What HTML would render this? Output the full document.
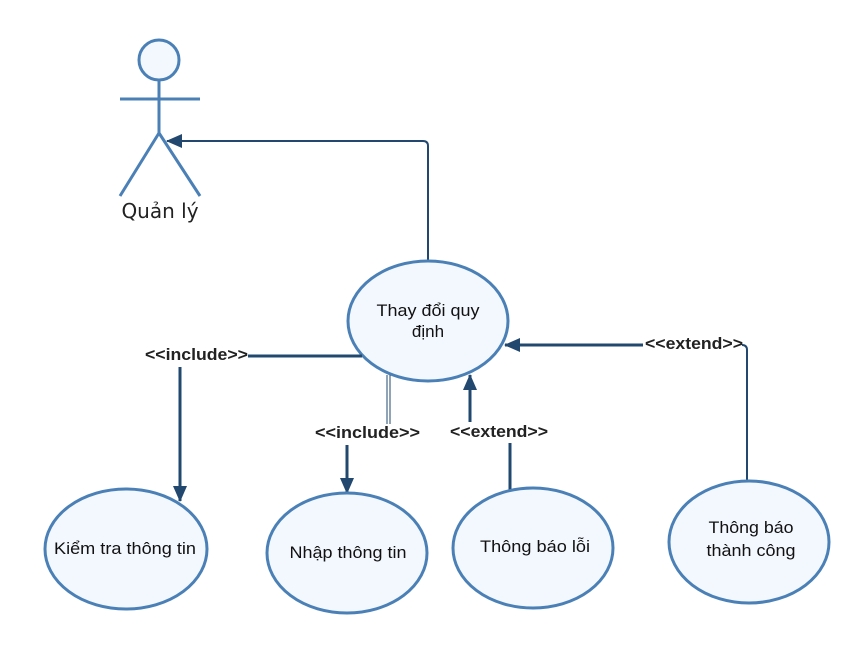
<!DOCTYPE html>
<html><head><meta charset="utf-8"><style>
html,body{margin:0;padding:0;background:#fff;}
svg{display:block;}
text{font-family:"Liberation Sans",sans-serif;fill:#111;}
.e{fill:#f3f8fe;stroke:#4a80b6;stroke-width:3;}
.c{stroke:#22486f;stroke-width:3;fill:none;}
.t{stroke:#22486f;stroke-width:2;fill:none;}
.lb{font-size:17px;font-weight:bold;fill:#222;}
.u{font-size:17px;text-anchor:middle;}
</style></head><body>
<svg width="868" height="654" viewBox="0 0 868 654" xmlns="http://www.w3.org/2000/svg">
<defs>
<marker id="b" markerWidth="16" markerHeight="14" refX="15" refY="7" orient="auto" markerUnits="userSpaceOnUse"><path d="M0,0 L16,7 L0,14 z" fill="#22486f"/></marker>
</defs>
<g stroke="#4a80b6" stroke-width="3" fill="#f3f8fe">
<circle cx="159" cy="60" r="20"/>
<line x1="159" y1="80" x2="159" y2="133"/>
<line x1="120" y1="99" x2="200" y2="99"/>
<line x1="159" y1="133" x2="120" y2="196"/>
<line x1="159" y1="133" x2="200" y2="196"/>
</g>
<text x="160" y="218" style="font-size:20px;text-anchor:middle;font-family:'DejaVu Sans',sans-serif;fill:#222">Quản lý</text>
<path class="t" d="M428,262 L428,146 Q428,141 423,141 L167,141" marker-end="url(#b)"/>
<ellipse class="e" cx="428" cy="321" rx="80" ry="60"/>
<text class="u" x="428" y="316" textLength="103" lengthAdjust="spacingAndGlyphs">Thay đổi quy</text>
<text class="u" x="428" y="337">định</text>
<line class="c" x1="362" y1="356" x2="248" y2="356"/>
<text class="lb" x="145" y="360" textLength="103" lengthAdjust="spacingAndGlyphs">&lt;&lt;include&gt;&gt;</text>
<line class="c" x1="180" y1="367" x2="180" y2="501" marker-end="url(#b)"/>
<line x1="387" y1="375" x2="387" y2="424" stroke="#22486f" stroke-width="1"/>
<line x1="390" y1="375" x2="390" y2="424" stroke="#22486f" stroke-width="1"/>
<text class="lb" x="315" y="438" textLength="105" lengthAdjust="spacingAndGlyphs">&lt;&lt;include&gt;&gt;</text>
<line class="c" x1="347" y1="445" x2="347" y2="493" marker-end="url(#b)"/>
<line class="c" x1="510" y1="443" x2="510" y2="490"/>
<text class="lb" x="450" y="437" textLength="98" lengthAdjust="spacingAndGlyphs">&lt;&lt;extend&gt;&gt;</text>
<line class="c" x1="470" y1="422" x2="470" y2="375" marker-end="url(#b)"/>
<path class="t" d="M747,480 L747,350 Q747,345 742,345"/>
<text class="lb" x="645" y="349" textLength="98" lengthAdjust="spacingAndGlyphs">&lt;&lt;extend&gt;&gt;</text>
<line class="c" x1="643" y1="345" x2="505" y2="345" marker-end="url(#b)"/>
<ellipse class="e" cx="126" cy="549" rx="81" ry="60"/>
<text class="u" x="125" y="554" textLength="142" lengthAdjust="spacingAndGlyphs">Kiểm tra thông tin</text>
<ellipse class="e" cx="347" cy="553" rx="80" ry="60"/>
<text class="u" x="348" y="558" textLength="117" lengthAdjust="spacingAndGlyphs">Nhập thông tin</text>
<ellipse class="e" cx="533" cy="548" rx="80" ry="60"/>
<text class="u" x="535" y="552" textLength="110" lengthAdjust="spacingAndGlyphs">Thông báo lỗi</text>
<ellipse class="e" cx="749" cy="542" rx="80" ry="61"/>
<text class="u" x="751" y="533" textLength="85" lengthAdjust="spacingAndGlyphs">Thông báo</text>
<text class="u" x="751" y="556" textLength="89" lengthAdjust="spacingAndGlyphs">thành công</text>
</svg>
</body></html>
